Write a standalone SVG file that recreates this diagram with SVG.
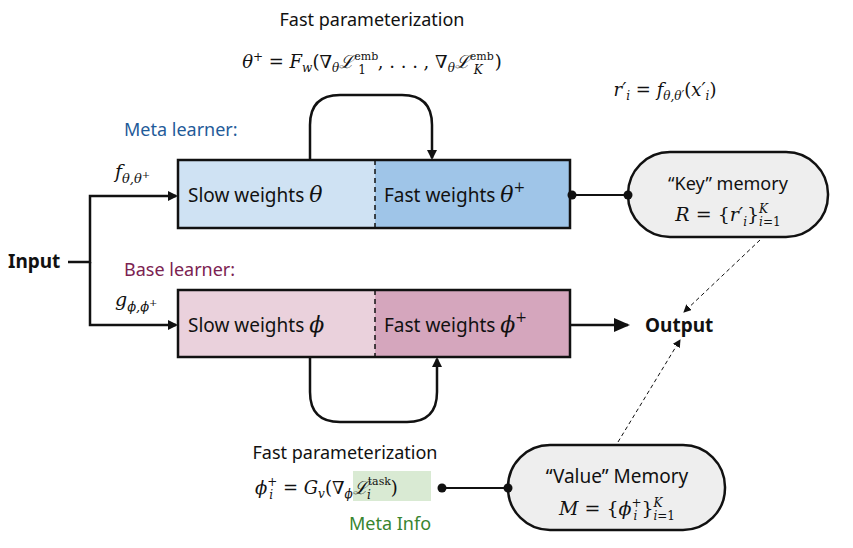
<svg xmlns="http://www.w3.org/2000/svg" width="853" height="548" viewBox="0 0 853 548">
<style>
.s{font-family:"Noto Sans","Open Sans",sans-serif;fill:#111}
.m{font-family:"DejaVu Serif","Liberation Serif",serif;fill:#111}
.i{font-style:italic}
.box{stroke:#111;stroke-width:2.5}
.ln{fill:none;stroke:#111;stroke-width:2.5}
</style>
<defs>
<marker id="ah" markerWidth="10" markerHeight="10" refX="8" refY="5" orient="auto" markerUnits="userSpaceOnUse"><path d="M0,0 L10,5 L0,10 Z" fill="#111"/></marker>
<marker id="ahl" markerWidth="16" markerHeight="14" refX="14" refY="7" orient="auto" markerUnits="userSpaceOnUse"><path d="M0,0 L16,7 L0,14 Z" fill="#111"/></marker>
<marker id="ahs" markerWidth="8" markerHeight="8" refX="7" refY="4" orient="auto" markerUnits="userSpaceOnUse"><path d="M0,0 L8,4 L0,8 Z" fill="#111"/></marker>
</defs>
<rect width="853" height="548" fill="#fff"/>
<g id="labels">
<text class="s" x="372" y="26" font-size="18" text-anchor="middle">Fast parameterization</text>
<text class="m" x="372" y="68" font-size="18" text-anchor="middle"><tspan class="i">θ</tspan><tspan font-size="12" dy="-7">+</tspan><tspan dy="7"> = </tspan><tspan class="i">F</tspan><tspan class="i" font-size="12" dy="4">w</tspan><tspan dy="-4">(∇</tspan><tspan class="i" font-size="12" dy="4">θ</tspan><tspan class="i" dy="-4">ℒ</tspan><tspan font-size="11" dy="-8">emb</tspan><tspan font-size="12" dx="-20" dy="14">1</tspan><tspan dx="12" dy="-6">, . . . , ∇</tspan><tspan class="i" font-size="12" dy="4">θ</tspan><tspan class="i" dy="-4">ℒ</tspan><tspan font-size="11" dy="-8">emb</tspan><tspan class="i" font-size="12" dx="-20" dy="14">K</tspan><tspan dx="12" dy="-6">)</tspan></text>
<text class="m" x="665" y="96" font-size="18" text-anchor="middle"><tspan class="i">r′</tspan><tspan class="i" font-size="12" dy="4">i</tspan><tspan dy="-4"> = </tspan><tspan class="i">f</tspan><tspan class="i" font-size="12" dy="4">θ,θ′</tspan><tspan dy="-4">(</tspan><tspan class="i">x′</tspan><tspan class="i" font-size="12" dy="4">i</tspan><tspan dy="-4">)</tspan></text>
<text class="s" x="124" y="136" font-size="18" style="fill:#1f5b99">Meta learner:</text>
<text class="s" x="124" y="276" font-size="18" style="fill:#7b2251">Base learner:</text>
<text class="s" x="8" y="268" font-size="19" font-weight="bold">Input</text>
<text class="m" x="115" y="178" font-size="19"><tspan class="i">f</tspan><tspan class="i" font-size="13" dy="5">θ,θ</tspan><tspan font-size="10" dy="-5">+</tspan></text>
<text class="m" x="115" y="306" font-size="19"><tspan class="i">g</tspan><tspan class="i" font-size="13" dy="5">ϕ,ϕ</tspan><tspan font-size="10" dy="-5">+</tspan></text>
<text class="s" x="645" y="332" font-size="19" font-weight="bold">Output</text>
<text class="s" x="345" y="459" font-size="18" text-anchor="middle">Fast parameterization</text>
<rect x="353" y="471" width="78" height="30" fill="#d9ead3"/>
<text class="m" x="255" y="494" font-size="18"><tspan class="i">ϕ</tspan><tspan font-size="12" dy="-8">+</tspan><tspan class="i" font-size="12" dx="-8" dy="13">i</tspan><tspan dx="4" dy="-5"> = </tspan><tspan class="i">G</tspan><tspan class="i" font-size="12" dy="4">v</tspan><tspan dy="-4">(∇</tspan><tspan class="i" font-size="12" dy="4">ϕ</tspan><tspan class="i" dy="-4">ℒ</tspan><tspan font-size="11" dy="-9">task</tspan><tspan class="i" font-size="12" dx="-24" dy="14">i</tspan><tspan dx="20" dy="-5">)</tspan></text>
<text class="s" x="390" y="530" font-size="18" text-anchor="middle" style="fill:#38852f">Meta Info</text>
</g>
<g id="meta">
<rect x="178" y="160" width="197" height="68" fill="#cfe2f3"/>
<rect x="375" y="160" width="195" height="68" fill="#9fc5e8"/>
<rect x="178" y="160" width="392" height="68" fill="none" class="box"/>
<line x1="375" y1="160" x2="375" y2="228" stroke="#111" stroke-width="1.5" stroke-dasharray="5,4"/>
<text class="s" x="188" y="202" font-size="19">Slow weights <tspan class="m i" font-size="22">θ</tspan></text>
<text class="s" x="384" y="202" font-size="19">Fast weights <tspan class="m i" font-size="22">θ</tspan><tspan class="m" font-size="14" dy="-10">+</tspan></text>
</g>
<g id="base">
<rect x="178" y="290" width="197" height="67" fill="#ead1dc"/>
<rect x="375" y="290" width="195" height="67" fill="#d5a6bd"/>
<rect x="178" y="290" width="392" height="67" fill="none" class="box"/>
<line x1="375" y1="290" x2="375" y2="357" stroke="#111" stroke-width="1.5" stroke-dasharray="5,4"/>
<text class="s" x="188" y="332" font-size="19">Slow weights <tspan class="m i" font-size="22">ϕ</tspan></text>
<text class="s" x="384" y="332" font-size="19">Fast weights <tspan class="m i" font-size="22">ϕ</tspan><tspan class="m" font-size="14" dy="-10">+</tspan></text>
</g>
<g id="key">
<rect x="628" y="152" width="200" height="85" rx="42" fill="#eeeeee" class="box"/>
<text class="s" x="728" y="190" font-size="18" text-anchor="middle">“Key” memory</text>
<text class="m" x="728" y="221" font-size="19" text-anchor="middle"><tspan class="i">R</tspan> = {<tspan class="i">r′</tspan><tspan class="i" font-size="12" dy="5">i</tspan><tspan dy="-5">}</tspan><tspan class="i" font-size="12" dy="-8">K</tspan><tspan font-size="12" dx="-9" dy="13"><tspan class="i">i</tspan>=1</tspan></text>
</g>
<g id="value">
<rect x="508" y="445" width="217" height="85" rx="42" fill="#eeeeee" class="box"/>
<text class="s" x="617" y="483" font-size="19" text-anchor="middle">“Value” Memory</text>
<text class="m" x="617" y="515" font-size="19" text-anchor="middle"><tspan class="i">M</tspan> = {<tspan class="i">ϕ</tspan><tspan font-size="12" dy="-8">+</tspan><tspan class="i" font-size="12" dx="-8" dy="13">i</tspan><tspan dx="4" dy="-5">}</tspan><tspan class="i" font-size="12" dy="-8">K</tspan><tspan font-size="12" dx="-9" dy="13"><tspan class="i">i</tspan>=1</tspan></text>
</g>
<g id="connectors">
<path class="ln" d="M68,262 H90 V196 H176" marker-end="url(#ah)"/>
<path class="ln" d="M90,262 V325 H176" marker-end="url(#ah)"/>
<path class="ln" d="M310,160 V125 Q310,95 340,95 H402 Q432,95 432,125 V158" marker-end="url(#ah)"/>
<path class="ln" d="M310,357 V392 Q310,422 340,422 H407 Q437,422 437,392 V359" marker-end="url(#ah)"/>
<path class="ln" d="M570,325 H628" marker-end="url(#ahl)"/>
<line x1="570" y1="195" x2="628" y2="195" stroke="#111" stroke-width="2"/>
<circle cx="572" cy="195" r="4.5" fill="#111"/><circle cx="628" cy="195" r="4.5" fill="#111"/>
<line x1="440" y1="488" x2="508" y2="488" stroke="#111" stroke-width="2"/>
<circle cx="442" cy="488" r="4.5" fill="#111"/><circle cx="508" cy="488" r="4.5" fill="#111"/>
<line x1="760" y1="240" x2="684" y2="312" stroke="#111" stroke-width="1" stroke-dasharray="4,3" marker-end="url(#ahs)"/>
<line x1="618" y1="442" x2="680" y2="340" stroke="#111" stroke-width="1" stroke-dasharray="4,3" marker-end="url(#ahs)"/>
</g>
</svg>
